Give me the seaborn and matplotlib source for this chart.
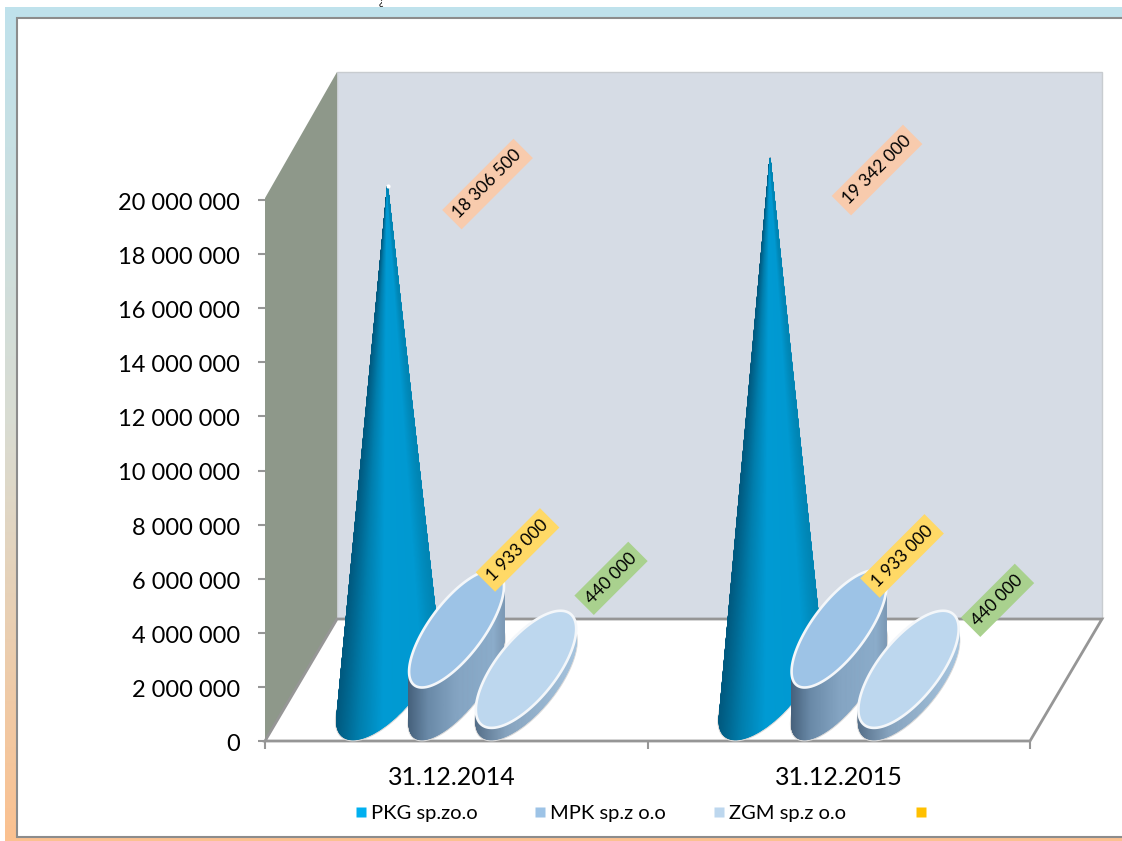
import numpy as np
import pandas as pd
import matplotlib
matplotlib.use("Agg")
import matplotlib.pyplot as plt
from matplotlib.colors import LinearSegmentedColormap
from matplotlib.lines import Line2D
from matplotlib.patches import Polygon, Rectangle
from matplotlib.ticker import FuncFormatter
from matplotlib.transforms import ScaledTranslation
import seaborn as sns

# Chart data
categories = ["31.12.2014", "31.12.2015"]
series_names = ["PKG sp.zo.o", "MPK sp.z o.o", "ZGM sp.z o.o"]
pkg_values = [18306500, 19342000]
mpk_values = [1933000, 1933000]
zgm_values = [440000, 440000]
empty_series_name = " "
y_ticks = list(range(0, 20000001, 2000000))

# Styling
W, H = 1122, 841
sns.set_theme(style="white")
plt.rcParams["font.family"] = ["Lato", "DejaVu Sans"]
palette = sns.color_palette(["#00b0f0", "#9dc3e6", "#bdd7ee", "#ffc000"])
TOP_COLORS = {1: "#9dc3e6", 2: "#bdd7ee"}
SIDE_MAPS = {
    0: LinearSegmentedColormap.from_list("cone", [(0, "#005a80"), (0.22, "#007fae"), (0.45, "#009ad3"),
                                                  (0.85, "#0099d1"), (1, "#0085b4")]),
    1: LinearSegmentedColormap.from_list("mid", [(0, "#47627d"), (0.2, "#6a8aa8"), (0.5, "#84a4c2"),
                                                 (0.9, "#8bacca"), (1, "#7d9ab6")]),
    2: LinearSegmentedColormap.from_list("low", [(0, "#56708a"), (0.3, "#86a3be"), (1, "#a6c4de")]),
}
label_colors = ["#f8cbad", "#ffd966", "#a9d18e"]
label_offsets_px = [[(100, 2), (61, 79), (85, 91)], [(107, -12), (63, 73), (89, 69)]]
legend_anchors_px = [355, 534, 713, 915]

df = pd.DataFrame({"PKG": pkg_values, "MPK": mpk_values, "ZGM": zgm_values}, index=categories)

fig = plt.figure(figsize=(W / 100, H / 100), dpi=100, facecolor="white")

# Gradient frame behind the white plot panel
bg = fig.add_axes([0, 0, 1, 1], zorder=0)
bg.axis("off")
frame_cmap = LinearSegmentedColormap.from_list("frame", ["#bfe2ec", "#d9dcd2", "#fbc190"])
bg.imshow(np.linspace(0, 1, 256).reshape(-1, 1), cmap=frame_cmap, aspect="auto",
          extent=(5, W, H, 7), zorder=1)
bg.set_xlim(0, W)
bg.set_ylim(H, 0)
bg.add_patch(Rectangle((17, 18), W, 819, fc="white", ec="#8c8c8c", lw=1.5, zorder=2))
bg.text(381, 5, "¿", fontsize=7.5, color="black", ha="center", va="baseline", zorder=3)

# Main axes: the front plane of the 3D box
ax = fig.add_axes([265 / W, 1 - 741 / H, 765 / W, 541 / H], zorder=1)
ax.patch.set_alpha(0)
ax.set_xlim(0, 2)
ax.set_ylim(0, 20000000)
ax.autoscale(False)

CAT_PX = 382.5
VAL_PX = 541 / 20000000
DEPTH_X = 72 / CAT_PX
DEPTH_Y = 122 / VAL_PX
SLOT = [-104 / CAT_PX, -35 / CAT_PX, 34.5 / CAT_PX]
RX = [0.098, 0.085, 0.095]
RZ = 0.48
DEPTH_C = 0.49
WALL_FRONT_TOP = 20070000
WALL_BACK_TOP = 20220000


def proj(x, v, d):
    return x + d * DEPTH_X, v + d * DEPTH_Y


def base_ring(cx, v, rx, n=360):
    t = np.linspace(0, 2 * np.pi, n + 1)
    d = DEPTH_C + RZ * np.sin(t)
    return np.column_stack(proj(cx + rx * np.cos(t), v, d))


def front_arc(ring, lo, hi):
    """Ring points from index lo to hi, taken along the side nearest the viewer."""
    n = len(ring) - 1
    if lo > hi:
        lo, hi = hi, lo
    inner = ring[lo:hi + 1]
    outer = np.concatenate([ring[hi:n], ring[:lo + 1]])
    arc = inner if inner[:, 1].min() < outer[:, 1].min() else outer
    return arc if arc[0, 0] < arc[-1, 0] else arc[::-1]


def shaded_side(start, end, cmap, z):
    """Gouraud-shaded surface between two point rows; colour follows horizontal position."""
    xs = np.vstack([start[:, 0], end[:, 0]])
    ys = np.vstack([start[:, 1], end[:, 1]])
    frac = (start[:, 0] - start[:, 0].min()) / np.ptp(start[:, 0])
    ax.pcolormesh(xs, ys, np.vstack([frac, frac]), shading="gouraud", cmap=cmap,
                  vmin=0, vmax=1, clip_on=False, zorder=z)


def draw_halo(ring, z):
    ax.add_patch(Polygon(ring, closed=True, fc="none", ec="#d8d8d8", lw=2.4, clip_on=False, zorder=z))


def to_px(points):
    return np.column_stack([points[:, 0] * CAT_PX, points[:, 1] * VAL_PX])


def draw_cone(cx, value, z):
    ring = base_ring(cx, 0, RX[0])
    apex = proj(cx, value, DEPTH_C)
    draw_halo(ring, z)
    rel = to_px(ring) - to_px(np.array([apex]))
    angles = np.arctan2(rel[:, 0], -rel[:, 1])
    arc = front_arc(ring, int(np.argmin(angles[:-1])), int(np.argmax(angles[:-1])))
    shaded_side(arc, np.tile(apex, (len(arc), 1)), SIDE_MAPS[0], z)
    return apex


def draw_cylinder(idx, cx, value, z):
    ring = base_ring(cx, 0, RX[idx])
    draw_halo(ring, z)
    arc = front_arc(ring, int(np.argmin(ring[:-1, 0])), int(np.argmax(ring[:-1, 0])))
    shaded_side(arc, arc + np.array([0, value]), SIDE_MAPS[idx], z)
    top = base_ring(cx, value, RX[idx])
    ax.add_patch(Polygon(top, closed=True, fc=TOP_COLORS[idx], ec="#f4f7fa", lw=1.9, clip_on=False, zorder=z))
    return proj(cx, value, DEPTH_C)


def value_text(v):
    return f"{v:,}".replace(",", " ")


# Walls and floor
ax.add_patch(Polygon([proj(0, 0, 1), proj(2, 0, 1), proj(2, WALL_BACK_TOP, 1), proj(0, WALL_BACK_TOP, 1)],
                     fc="#d6dce5", ec="#c8ccd0", lw=1, clip_on=False, zorder=1))
ax.add_patch(Polygon([proj(0, 0, 0), proj(0, WALL_FRONT_TOP, 0), proj(0, WALL_BACK_TOP, 1), proj(0, 0, 1)],
                     fc="#8e988a", ec="none", clip_on=False, zorder=1))
ax.add_patch(Polygon([proj(0, 0, 0), proj(2, 0, 0), proj(2, 0, 1), proj(0, 0, 1)],
                     fc="white", ec="#969696", lw=2, clip_on=False, zorder=2))

z = 3
for c, cat in enumerate(df.index):
    for s, col in enumerate(df.columns):
        value = df.loc[cat, col]
        cx = c + 0.5 + SLOT[s]
        if s == 0:
            anchor = draw_cone(cx, value, z)
        else:
            anchor = draw_cylinder(s, cx, value, z)
        dx, dy = label_offsets_px[c][s]
        ax.annotate(value_text(int(value)), xy=anchor, xytext=(dx * 0.72, dy * 0.72),
                    textcoords="offset points", rotation=45, rotation_mode="anchor",
                    ha="center", va="center", fontsize=12.5, color="black", zorder=30,
                    annotation_clip=False,
                    bbox=dict(boxstyle="square,pad=0.33", fc=label_colors[s], ec="none"))
        z += 1

# Small highlight on the first cone's tip
ax.plot(*proj(0.5 + SLOT[0], pkg_values[0], DEPTH_C), marker="o", ms=3, mfc="white", mec="none",
        clip_on=False, zorder=z)

# Axes furniture
sns.despine(ax=ax, left=True, bottom=True, top=True, right=True)
ax.set_yticks(y_ticks)
ax.yaxis.set_major_formatter(FuncFormatter(lambda v, _: value_text(int(v))))
ax.set_xticks([0, 1, 2])
ax.set_xticklabels([])
ax.set_xticks([0.489, 1.5], minor=True)
ax.set_xticklabels(categories, minor=True)
ax.tick_params(axis="y", left=True, length=5, width=1.5, color="#969696", labelsize=17,
               pad=13, labelcolor="black")
ax.tick_params(axis="x", which="major", bottom=True, length=6, width=1.5, color="#969696")
ax.tick_params(axis="x", which="minor", bottom=False, length=0, labelsize=18, pad=18, labelcolor="black")
ax.grid(False)
label_shift = ScaledTranslation(0, -1.5 / 100, fig.dpi_scale_trans)
for tick in ax.yaxis.get_major_ticks():
    tick.label1.set_transform(tick.label1.get_transform() + label_shift)

# Legend entries sit at their own positions; the last one has no name
names = series_names + [empty_series_name]
for i, (name, anchor_px) in enumerate(zip(names, legend_anchors_px)):
    handle = Line2D([], [], ls="none", marker="s", ms=7.5, mfc=palette[i], mec="none")
    fig.legend([handle], [name], frameon=False, fontsize=14.5, loc="center left",
               bbox_to_anchor=(anchor_px / W, 1 - 813 / H), handletextpad=0.2, handlelength=0.6,
               borderaxespad=0, borderpad=0, labelcolor="black")

fig.savefig("out.png", dpi=100)
